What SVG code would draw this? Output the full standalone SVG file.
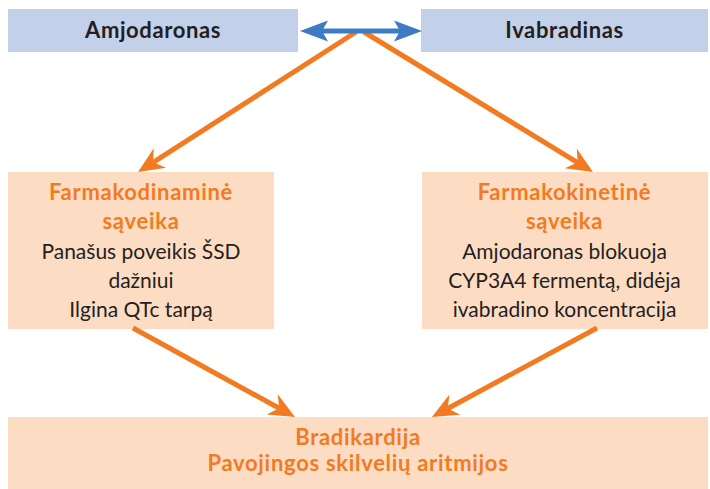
<svg xmlns="http://www.w3.org/2000/svg" width="710" height="489" viewBox="0 0 710 489">
  <defs>
    <style>
      .drug { fill: #c3d0e9; }
      .box { fill: #fddcc4; }
      .t { font-family: Lato, "Open Sans", "Liberation Sans", sans-serif; text-anchor: middle; }
      .drugname { font-size: 22px; font-weight: bold; letter-spacing: 0.6px; fill: #231f20; }
      .title { font-size: 22px; font-weight: bold; letter-spacing: 0.7px; fill: #f27b21; }
      .body { font-size: 21px; fill: #231f20; }
      .flow { stroke: #f27b21; stroke-width: 5; fill: none; marker-end: url(#headOrange); }
      .link { stroke: #3d7cc4; stroke-width: 5; fill: none; marker-start: url(#headBlue); marker-end: url(#headBlue); }
    </style>
    <marker id="headOrange" markerUnits="userSpaceOnUse" viewBox="-10 -13 30 26" markerWidth="30" markerHeight="26" refX="0" refY="0" orient="auto" overflow="visible">
      <path d="M18,0 L-8,-11.5 L0,0 L-8,11.5 Z" fill="#f27b21"/>
    </marker>
    <marker id="headBlue" markerUnits="userSpaceOnUse" viewBox="-10 -12 34 24" markerWidth="34" markerHeight="24" refX="0" refY="0" orient="auto-start-reverse" overflow="visible">
      <path d="M22,0 L-6,-10.5 L0,0 L-6,10.5 Z" fill="#3d7cc4"/>
    </marker>
  </defs>

  <!-- drugs -->
  <g id="amjodaronas">
    <rect class="drug" x="8" y="9" width="290" height="43"/>
    <text class="t drugname" x="153" y="38">Amjodaronas</text>
  </g>
  <g id="ivabradinas">
    <rect class="drug" x="421" y="9" width="287" height="43"/>
    <text class="t drugname" x="564.5" y="38">Ivabradinas</text>
  </g>

  <!-- interaction types -->
  <g id="farmakodinamine">
    <rect class="box" x="8" y="172" width="266" height="157"/>
    <text class="t title" x="141" y="200">Farmakodinaminė</text>
    <text class="t title" x="141" y="229">sąveika</text>
    <text class="t body" x="141" y="259">Panašus poveikis ŠSD</text>
    <text class="t body" x="141" y="288">dažniui</text>
    <text class="t body" x="141" y="317">Ilgina QTc tarpą</text>
  </g>
  <g id="farmakokinetine">
    <rect class="box" x="422" y="172" width="286" height="157"/>
    <text class="t title" x="564.5" y="200">Farmakokinetinė</text>
    <text class="t title" x="564.5" y="229">sąveika</text>
    <text class="t body" x="564.5" y="259">Amjodaronas blokuoja</text>
    <text class="t body" x="564.5" y="288">CYP3A4 fermentą, didėja</text>
    <text class="t body" x="564.5" y="317">ivabradino koncentracija</text>
  </g>

  <!-- outcome -->
  <g id="pasekmes">
    <rect class="box" x="8" y="417" width="700" height="72"/>
    <text class="t title" x="358" y="445">Bradikardija</text>
    <text class="t title" x="358" y="471">Pavojingos skilvelių aritmijos</text>
  </g>

  <!-- connectors -->
  <g id="connectors">
    <line class="flow" x1="356" y1="32" x2="153.2" y2="162.3"/>
    <line class="flow" x1="364" y1="32" x2="577.6" y2="162.6"/>
    <line class="flow" x1="133" y1="328" x2="279.2" y2="408.3"/>
    <line class="flow" x1="597" y1="328" x2="447.8" y2="408.5"/>
    <line class="link" x1="322" y1="31" x2="400" y2="31"/>
  </g>
</svg>
